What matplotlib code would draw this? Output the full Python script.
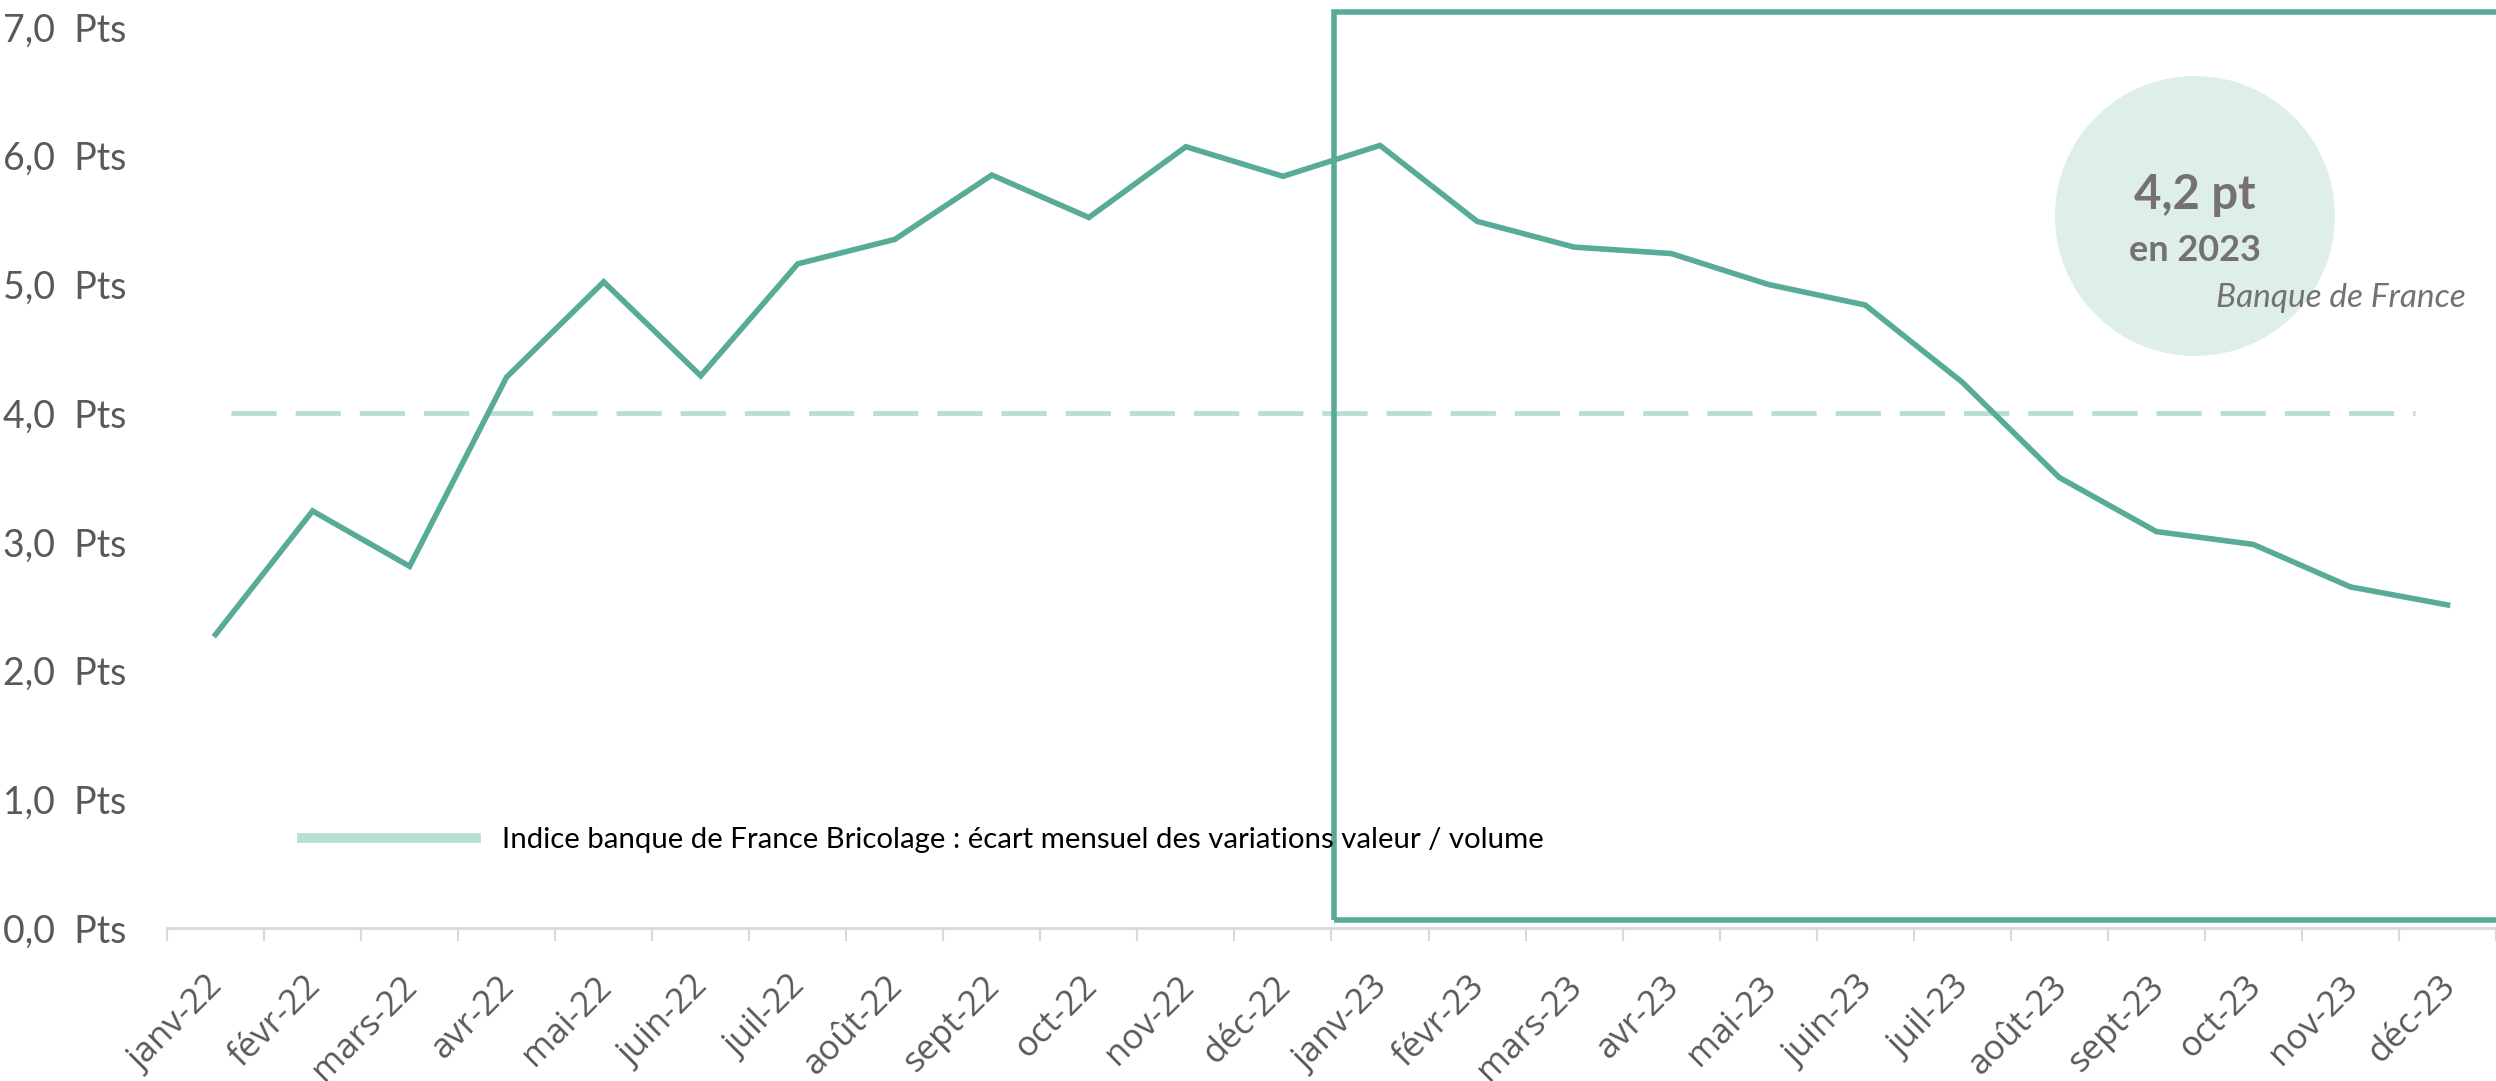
import matplotlib
matplotlib.use("Agg")
import matplotlib.pyplot as plt
from matplotlib.lines import Line2D
from matplotlib.patches import Circle, Rectangle
from matplotlib.ticker import FixedLocator
from matplotlib.transforms import ScaledTranslation

plt.rcParams['font.family'] = ['Lato', 'DejaVu Sans']

# Donnees
mois = ['janv-22', 'févr-22', 'mars-22', 'avr-22', 'mai-22', 'juin-22',
        'juil-22', 'août-22', 'sept-22', 'oct-22', 'nov-22', 'déc-22',
        'janv-23', 'févr-23', 'mars-23', 'avr-23', 'mai-23', 'juin-23',
        'juil-23', 'août-23', 'sept-23', 'oct-23', 'nov-23', 'déc-23']
ecart = [2.28, 3.24, 2.81, 4.28, 5.02, 4.29, 5.16, 5.35, 5.85, 5.52, 6.07, 5.84,
         6.08, 5.49, 5.29, 5.24, 5.00, 4.84, 4.24, 3.50, 3.08, 2.98, 2.65, 2.51]
seuil = 4.0
y_ticks = [0, 1, 2, 3, 4, 5, 6, 7]
legende = "Indice banque de France Bricolage : écart mensuel des variations valeur / volume"

vert = '#58AC97'
vert_clair = '#B9DED5'
gris_texte = '#595959'
gris_bulle = '#767171'

fig = plt.figure(figsize=(24.96, 10.81), dpi=100)
ax = fig.add_axes([167 / 2496, 1 - 928 / 1081, 1 - 167 / 2496, (928 - 27) / 1081])

x = list(range(len(mois)))

# ligne pointillee (niveau moyen)
ax.hlines(seuil, 0.16, 22.67, colors=vert_clair, linewidth=3.5,
          linestyles=(0, (9.3, 3.9)))

# serie principale
ax.plot(x, ecart, color=vert, linewidth=4, solid_joinstyle='miter')

ax.set_xlim(-0.5, len(mois) - 0.5)
ax.set_ylim(0, 7)

# axes style excel
for s in ['left', 'top', 'right']:
    ax.spines[s].set_visible(False)
ax.spines['bottom'].set_color('#D9D9D9')
ax.spines['bottom'].set_linewidth(2)

ax.set_yticks(y_ticks)
ax.set_yticklabels([f"{v:.1f}".replace('.', ',') + "  Pts" for v in y_ticks])
ax.tick_params(axis='y', length=0, pad=29, labelsize=27, labelcolor=gris_texte)

# etiquettes des mois : texte incline, ancre sur la fin de la ligne de base
ax.set_xticks(x)
ax.set_xticklabels([])
ax.tick_params(axis='x', which='major', length=0)
trans_lab = ax.get_xaxis_transform() + ScaledTranslation(0.09, -0.60, fig.dpi_scale_trans)
for i, m in enumerate(mois):
    ax.text(i, 0, m, transform=trans_lab, rotation=45, rotation_mode='anchor',
            ha='right', va='baseline', fontsize=25, color=gris_texte,
            family=['Open Sans', 'DejaVu Sans'])
ax.xaxis.set_minor_locator(FixedLocator([i - 0.5 for i in range(len(mois) + 1)]))
ax.tick_params(axis='x', which='minor', length=9.5, width=1.5, color='#D9D9D9')

# cadre 2023
cadre = Rectangle((11.53, 0.06), 12.44, 7.06, fill=False, edgecolor=vert,
                  linewidth=4, clip_on=False, zorder=5)
ax.add_patch(cadre)

# bulle
bulle = Circle((21.95, 8.65), 1.40, transform=fig.dpi_scale_trans,
               facecolor='#DEEEEA', edgecolor='none', zorder=0)
fig.patches.append(bulle)
fig.text(2195 / 2496, 1 - 195 / 1081, "4,2 pt", ha='center', va='center',
         fontsize=34, fontweight='bold', color=gris_bulle)
fig.text(2195 / 2496, 1 - 250 / 1081, "en 2023", ha='center', va='center',
         fontsize=26, fontweight='bold', color=gris_bulle)
fig.text(2466 / 2496, 1 - 298 / 1081, "Banque de France", ha='right', va='center',
         fontsize=24, fontstyle='italic', color=gris_bulle)

# legende
h = Line2D([], [], color=vert_clair, linewidth=7)
ax.legend([h], [legende], loc='center left',
          bbox_to_anchor=(302 / 2496, 1 - 840 / 1081), bbox_transform=fig.transFigure,
          frameon=False, borderpad=0, borderaxespad=0, handlelength=5.9,
          handletextpad=0.9, fontsize=21.2, labelcolor='black')

fig.savefig('out.png', dpi=100)
